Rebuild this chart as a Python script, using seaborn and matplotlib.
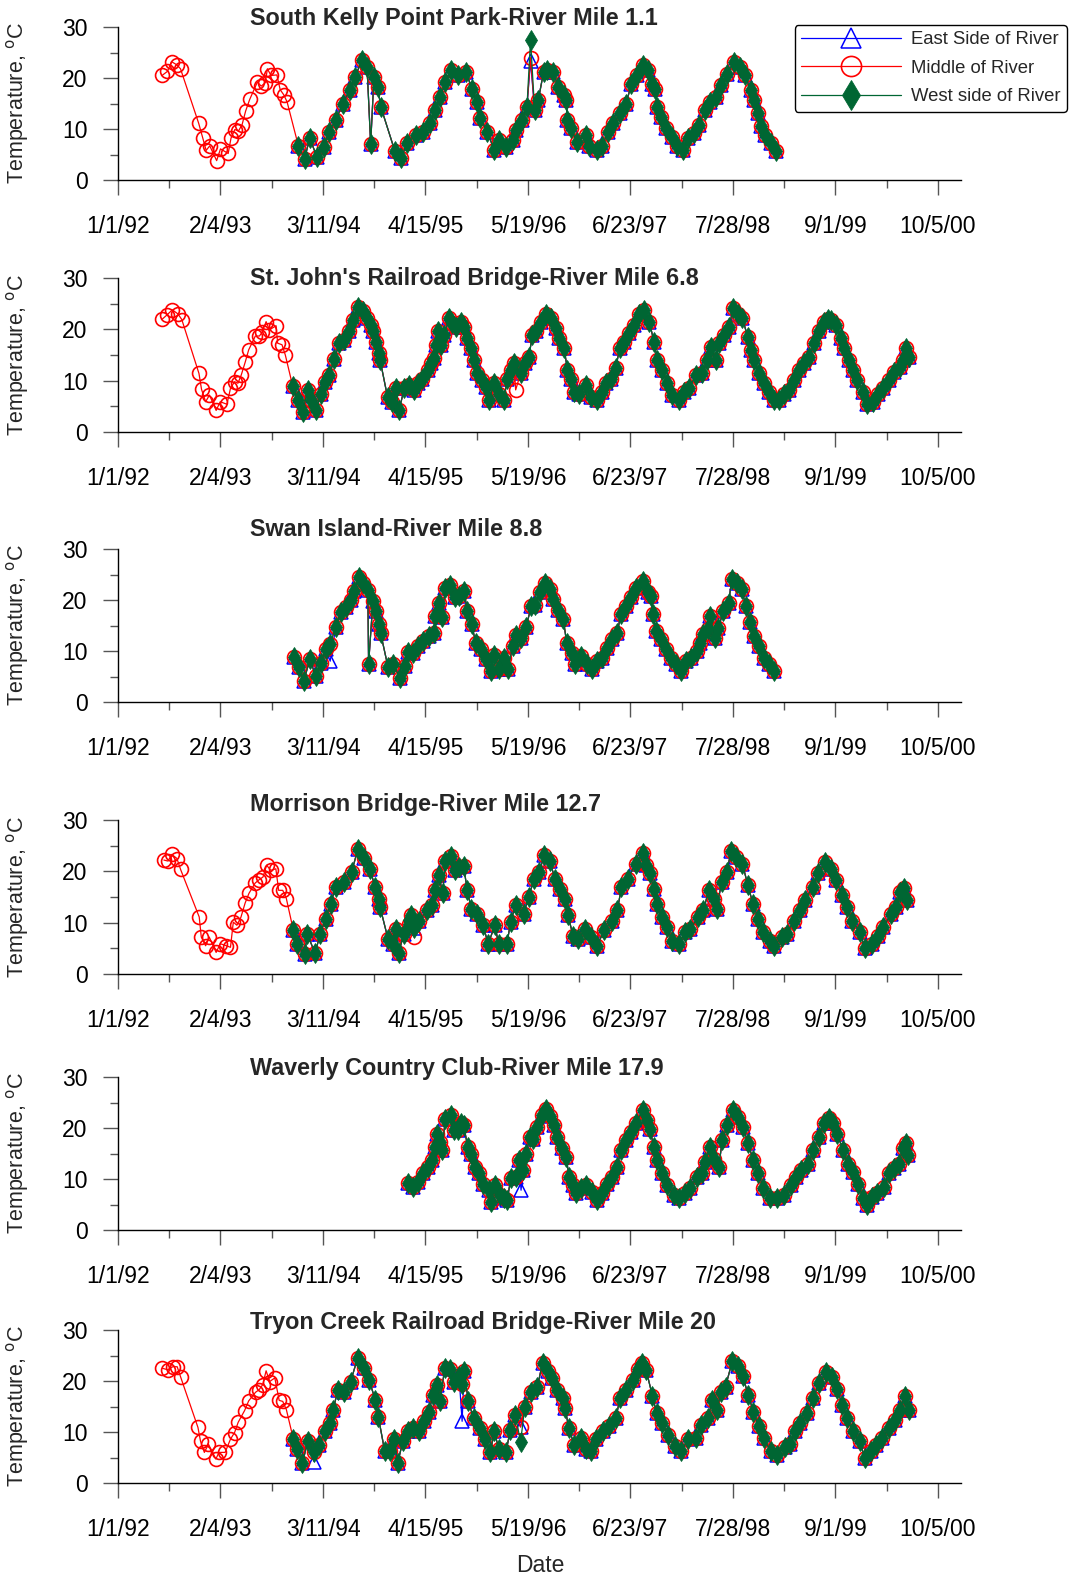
import matplotlib
matplotlib.use("Agg")
import matplotlib.pyplot as plt
import seaborn as sns

# x values are days after 1/1/92; tick labels every 400 days
TICK_DAYS = [0, 400, 800, 1200, 1600, 2000, 2400, 2800, 3200]
TICK_LABELS = ["1/1/92", "2/4/93", "3/11/94", "4/15/95", "5/19/96",
               "6/23/97", "7/28/98", "9/1/99", "10/5/00"]
MINOR_DAYS = [200, 600, 1000, 1400, 1800, 2200, 2600, 3000]

TITLES = [
    "South Kelly Point Park-River Mile 1.1",
    "St. John's Railroad Bridge-River Mile 6.8",
    "Swan Island-River Mile 8.8",
    "Morrison Bridge-River Mile 12.7",
    "Waverly Country Club-River Mile 17.9",
    "Tryon Creek Railroad Bridge-River Mile 20",
]
SERIES = ["East Side of River", "Middle of River", "West side of River"]

# ---- South Kelly Point Park ----
P1_EARLY_DAY = [172, 193, 209, 229, 244, 315, 331, 344, 358, 385, 400, 430, 441, 456,
                470, 484, 498, 514, 544, 559, 575, 583, 597, 620, 633, 647, 660]
P1_EARLY_TEMP = [20.5, 21.3, 23.2, 22.6, 21.8, 11.1, 8.2, 5.8, 6.7, 3.8, 6.1, 5.2, 8.2, 9.9,
                 9.6, 10.8, 13.5, 15.8, 19.2, 18.4, 19.1, 21.8, 20.5, 20.6, 17.7, 16.7, 15.3]
P1_DAY = [704, 728, 748, 776, 803, 823, 850, 877, 904, 925, 952, 972, 986, 999, 1013, 1026,
          1081, 1105, 1128, 1162, 1190, 1216, 1237, 1257, 1278, 1298, 1325, 1360, 1380, 1400,
          1414, 1441, 1468, 1488, 1515, 1542, 1555, 1575, 1596, 1610, 1626, 1640, 1661, 1676,
          1697, 1719, 1740, 1750, 1754, 1769, 1790, 1826, 1840, 1869, 1890, 1911, 1933, 1961,
          1983, 2004, 2026, 2047, 2069, 2083, 2097, 2104, 2119, 2140, 2161, 2183, 2204, 2226,
          2247, 2269, 2290, 2311, 2333, 2354, 2376, 2404, 2426, 2447, 2469, 2483, 2497, 2511,
          2526, 2547, 2569]
P1_TEMP = [6.7, 4.1, 8.2, 4.6, 6.5, 9.5, 11.7, 15.0, 17.6, 20.2, 23.5, 22.1, 7.1, 20.2, 18.2, 14.3,
           5.6, 4.3, 7.2, 8.8, 9.5, 11.1, 13.7, 16.3, 19.2, 21.5, 20.5, 21.1, 17.9, 15.3,
           12.1, 9.5, 5.9, 7.8, 6.5, 7.8, 9.8, 11.7, 14.3, 24.0, 13.7, 15.6, 21.2, 21.5,
           21.2, 18.2, 16.6, 15.6, 11.8, 10.1, 7.5, 8.8, 6.6, 5.9, 6.6, 9.5, 11.1, 13.1,
           15.0, 18.9, 20.5, 22.5, 21.5, 18.9, 17.9, 14.4, 12.4, 10.1, 8.5, 6.6, 5.9, 8.2,
           9.2, 10.8, 13.7, 15.3, 16.3, 18.6, 20.8, 23.2, 22.1, 20.5, 17.6, 15.6, 13.1, 10.5,
           8.8, 7.2, 5.6]
P1_EAST_EDIT = {1610: 23.3}
P1_MID_EDIT = {}
P1_WEST_EDIT = {1610: 27.5}

# ---- St. John's Railroad Bridge ----
P2_EARLY_DAY = [173, 191, 212, 234, 249, 316, 326, 342, 357, 383, 399, 425, 439, 455,
                468, 481, 497, 510, 536, 552, 562, 578, 591, 617, 623, 640, 653]
P2_EARLY_TEMP = [22.0, 22.8, 23.8, 23.0, 21.9, 11.4, 8.3, 5.9, 7.2, 4.2, 5.9, 5.4, 8.5, 9.8,
                 9.5, 11.1, 13.7, 16.0, 18.7, 18.7, 19.4, 21.5, 19.9, 20.7, 17.3, 17.0, 15.0]
P2_DAY = [682, 701, 721, 740, 753, 773, 792, 809, 825, 844, 864, 883, 903, 918, 935, 955,
          970, 987, 996, 1006, 1017, 1023, 1052, 1071, 1084, 1097, 1117, 1136, 1156, 1169,
          1188, 1208, 1221, 1234, 1240, 1247, 1260, 1273, 1292, 1305, 1318, 1338, 1351, 1364,
          1377, 1390, 1403, 1422, 1435, 1448, 1468, 1487, 1506, 1519, 1532, 1545, 1571, 1590,
          1604, 1617, 1630, 1649, 1669, 1689, 1708, 1721, 1741, 1754, 1767, 1780, 1799, 1825,
          1845, 1868, 1888, 1903, 1923, 1942, 1958, 1975, 1995, 2014, 2034, 2053, 2073, 2092,
          2105, 2125, 2144, 2164, 2190, 2210, 2229, 2255, 2281, 2300, 2313, 2333, 2346, 2366,
          2385, 2401, 2418, 2437, 2457, 2470, 2483, 2502, 2522, 2541, 2560, 2580, 2600, 2620,
          2639, 2659, 2678, 2698, 2717, 2737, 2756, 2769, 2782, 2802, 2821, 2834, 2854, 2867,
          2886, 2906, 2925, 2945, 2965, 2984, 3010, 3030, 3050, 3062, 3075, 3088]
P2_TEMP = [8.9, 6.2, 3.9, 8.2, 6.2, 4.2, 7.5, 9.8, 11.1, 14.2, 17.3, 17.9, 19.6, 21.9, 24.3, 23.5,
           22.2, 20.9, 19.6, 17.6, 15.3, 14.0, 6.8, 5.9, 8.5, 4.2, 8.5, 9.1, 8.2, 9.5,
           10.4, 12.1, 13.4, 14.4, 17.0, 19.6, 17.0, 18.9, 22.2, 21.2, 20.5, 21.5, 20.5, 18.3,
           16.3, 14.0, 11.4, 10.1, 8.8, 6.2, 9.5, 7.5, 6.2, 10.4, 12.1, 13.4, 11.4, 13.4,
           14.7, 18.9, 19.6, 21.5, 23.0, 22.2, 20.2, 18.3, 16.3, 12.1, 10.4, 7.8, 7.5, 9.1,
           6.8, 6.2, 7.8, 9.5, 10.4, 12.4, 16.3, 17.6, 19.2, 20.9, 23.0, 23.8, 21.5, 17.6,
           14.0, 12.1, 9.5, 7.2, 6.2, 7.8, 8.5, 11.1, 11.4, 14.0, 16.6, 14.0, 17.3, 18.9,
           20.5, 24.2, 23.0, 22.2, 18.6, 16.0, 14.0, 11.4, 9.5, 7.8, 6.2, 6.2, 7.5, 8.2,
           10.1, 12.1, 13.4, 14.7, 17.3, 19.6, 21.5, 22.0, 21.8, 20.9, 18.3, 16.3, 14.0, 12.1,
           10.1, 7.8, 5.5, 5.9, 7.5, 8.5, 10.1, 11.7, 12.7, 14.0, 16.3, 14.7]
P2_EAST_EDIT = {}
P2_MID_EDIT = {1552: 8.2}
P2_WEST_EDIT = {}

# ---- Swan Island (no early record) ----
P3_EARLY_DAY = []
P3_EARLY_TEMP = []
P3_DAY = [686, 705, 725, 749, 771, 791, 811, 828, 850, 870, 889, 909, 922, 939, 955, 975,
          978, 995, 1008, 1017, 1025, 1054, 1074, 1100, 1120, 1133, 1153, 1172, 1192, 1212,
          1232, 1238, 1251, 1264, 1278, 1297, 1317, 1330, 1350, 1363, 1380, 1396, 1416, 1436,
          1455, 1468, 1488, 1508, 1521, 1541, 1554, 1574, 1593, 1613, 1626, 1646, 1666, 1686,
          1699, 1718, 1738, 1751, 1771, 1784, 1808, 1830, 1850, 1870, 1889, 1909, 1929, 1949,
          1962, 1982, 2001, 2021, 2047, 2067, 2080, 2087, 2100, 2120, 2139, 2159, 2179, 2199,
          2218, 2238, 2258, 2271, 2284, 2304, 2311, 2330, 2343, 2363, 2383, 2396, 2416, 2436,
          2449, 2468, 2482, 2501, 2521, 2541, 2561]
P3_TEMP = [8.9, 6.8, 4.1, 8.4, 5.1, 7.7, 10.4, 11.4, 14.7, 17.7, 18.7, 20.0, 21.7, 24.5, 23.3, 22.0,
           7.5, 19.8, 17.8, 15.2, 13.5, 6.8, 7.4, 4.8, 7.1, 9.9, 9.7, 11.0, 12.0, 12.9,
           13.6, 16.8, 19.5, 16.6, 22.3, 23.0, 20.5, 20.8, 21.8, 17.9, 15.3, 11.6, 10.3, 8.4,
           6.1, 9.3, 6.4, 8.6, 6.4, 11.0, 13.2, 12.6, 14.8, 18.8, 19.1, 21.5, 23.3, 22.1,
           20.1, 18.1, 16.2, 11.6, 9.6, 7.4, 9.0, 7.4, 6.4, 8.0, 8.6, 10.6, 12.3, 13.6,
           17.2, 18.8, 20.5, 22.3, 23.8, 21.5, 20.8, 17.2, 13.9, 12.3, 10.3, 8.6, 7.4, 6.1,
           8.0, 8.6, 10.0, 11.6, 13.3, 14.3, 16.8, 12.6, 14.6, 17.8, 19.5, 24.2, 23.3, 22.1,
           18.8, 15.6, 12.9, 11.0, 8.6, 7.4, 6.1]
P3_EAST_EDIT = {828: 8.0}
P3_MID_EDIT = {}
P3_WEST_EDIT = {}

# ---- Morrison Bridge ----
P4_EARLY_DAY = [179, 195, 210, 230, 244, 317, 325, 342, 356, 383, 399, 423, 439, 450,
                464, 480, 496, 511, 535, 549, 566, 580, 596, 616, 627, 643, 657]
P4_EARLY_TEMP = [22.2, 22.0, 23.3, 22.5, 20.4, 11.1, 7.2, 5.5, 7.2, 4.2, 5.9, 5.5, 5.2, 10.1,
                 9.5, 11.1, 13.8, 15.7, 17.7, 18.3, 18.9, 21.2, 20.2, 20.5, 16.3, 16.3, 14.7]
P4_DAY = [684, 698, 728, 739, 769, 789, 810, 830, 850, 881, 912, 936, 962, 983, 1003, 1017,
          1023, 1054, 1074, 1084, 1095, 1115, 1135, 1145, 1156, 1176, 1206, 1227, 1237, 1253,
          1267, 1278, 1298, 1314, 1329, 1349, 1363, 1379, 1400, 1424, 1445, 1471, 1485, 1518,
          1532, 1552, 1583, 1603, 1624, 1644, 1664, 1685, 1705, 1725, 1746, 1756, 1776, 1796,
          1823, 1847, 1868, 1898, 1929, 1949, 1965, 1990, 2020, 2047, 2061, 2075, 2092, 2102,
          2122, 2142, 2163, 2189, 2214, 2234, 2264, 2285, 2305, 2326, 2336, 2356, 2376, 2393,
          2413, 2437, 2458, 2478, 2498, 2519, 2543, 2560, 2590, 2610, 2637, 2661, 2681, 2712,
          2732, 2759, 2783, 2804, 2824, 2844, 2866, 2895, 2915, 2942, 2966, 2986, 3017, 3038,
          3052, 3068, 3078]
P4_TEMP = [8.6, 5.9, 3.8, 7.8, 4.0, 7.8, 10.8, 13.7, 17.0, 17.9, 19.9, 24.3, 22.6, 20.5, 17.0, 14.7,
           13.0, 6.8, 5.9, 8.8, 4.0, 7.8, 9.8, 11.4, 9.0, 10.4, 12.4, 13.4, 16.3, 19.2,
           15.7, 22.0, 23.0, 20.2, 20.9, 21.0, 16.3, 12.7, 11.7, 9.5, 5.9, 9.5, 5.9, 5.9,
           10.1, 13.4, 11.7, 15.0, 18.6, 19.9, 23.2, 22.0, 18.6, 16.6, 14.7, 11.4, 7.5, 6.8,
           8.8, 7.2, 5.4, 8.5, 10.4, 12.4, 17.0, 18.6, 21.5, 23.5, 21.2, 19.6, 16.6, 13.7,
           11.1, 9.1, 6.5, 5.9, 8.2, 8.8, 11.1, 12.4, 16.3, 14.7, 12.7, 17.9, 19.9, 24.0,
           22.8, 21.5, 17.3, 13.7, 10.8, 8.2, 6.5, 5.4, 7.2, 7.8, 10.4, 12.4, 14.4, 17.0,
           19.6, 21.8, 20.5, 18.3, 15.3, 13.0, 10.4, 8.2, 5.0, 5.9, 7.5, 9.1, 11.7, 13.0,
           16.0, 16.8, 14.4]
P4_EAST_EDIT = {}
P4_MID_EDIT = {1156: 7.2}
P4_WEST_EDIT = {1134: 10.5}

# ---- Waverly Country Club (starts 1995) ----
P5_EARLY_DAY = []
P5_EARLY_TEMP = []
P5_DAY = [1130, 1150, 1170, 1191, 1211, 1224, 1238, 1244, 1258, 1264, 1278, 1298, 1311, 1325,
          1338, 1349, 1365, 1379, 1392, 1408, 1425, 1446, 1456, 1472, 1492, 1506, 1519, 1533,
          1553, 1564, 1580, 1593, 1607, 1620, 1634, 1654, 1671, 1687, 1701, 1714, 1734, 1748,
          1761, 1774, 1788, 1808, 1828, 1848, 1868, 1889, 1909, 1929, 1949, 1962, 1983, 2003,
          2023, 2047, 2063, 2077, 2090, 2104, 2123, 2144, 2171, 2191, 2211, 2231, 2258, 2278,
          2291, 2311, 2325, 2345, 2358, 2378, 2399, 2419, 2439, 2459, 2479, 2499, 2519, 2546,
          2573, 2600, 2627, 2647, 2667, 2694, 2714, 2734, 2754, 2774, 2790, 2808, 2828, 2848,
          2868, 2888, 2908, 2922, 2942, 2962, 2989, 3009, 3028, 3048, 3062, 3075, 3084]
P5_TEMP = [9.3, 8.4, 9.5, 11.1, 12.4, 13.7, 16.3, 18.9, 17.3, 15.7, 21.8, 22.5, 19.6, 19.6,
           20.9, 20.5, 16.3, 15.0, 12.4, 11.1, 9.1, 7.8, 5.5, 8.8, 6.8, 6.2, 5.9, 10.1,
           10.4, 13.7, 11.7, 15.0, 18.3, 17.9, 20.2, 22.5, 23.8, 22.3, 20.5, 18.3, 16.0, 14.4,
           10.4, 8.8, 7.2, 8.2, 8.8, 7.5, 5.9, 7.2, 9.1, 10.4, 12.4, 15.7, 17.6, 19.2,
           20.9, 23.6, 21.5, 19.9, 16.3, 13.7, 11.1, 8.8, 6.8, 6.2, 7.2, 8.2, 10.4, 11.1,
           13.4, 16.3, 14.0, 12.4, 17.6, 20.5, 23.5, 22.2, 20.2, 17.0, 13.7, 11.1, 8.2, 6.2,
           6.2, 6.8, 8.8, 10.4, 11.7, 13.0, 15.7, 18.3, 21.0, 22.0, 20.9, 18.9, 15.7, 13.0,
           11.4, 9.1, 6.2, 4.9, 6.5, 7.2, 8.5, 11.1, 12.1, 13.0, 16.0, 17.0, 14.7]
P5_EAST_EDIT = {1573: 7.8}
P5_MID_EDIT = {}
P5_WEST_EDIT = {}

# ---- Tryon Creek Railroad Bridge ----
P6_EARLY_DAY = [173, 194, 214, 231, 245, 312, 322, 337, 353, 382, 394, 418, 439, 455,
                469, 494, 510, 537, 551, 565, 578, 592, 612, 629, 643, 657]
P6_EARLY_TEMP = [22.5, 22.2, 22.8, 22.8, 20.7, 10.9, 8.2, 6.0, 7.6, 4.7, 6.0, 6.0, 8.6, 9.9,
                 11.9, 14.2, 16.1, 17.8, 18.3, 19.3, 22.0, 19.9, 20.6, 16.2, 16.0, 14.4]
P6_DAY = [684, 698, 720, 741, 765, 786, 806, 827, 841, 857, 882, 908, 935, 959, 980, 1004,
          1016, 1041, 1061, 1078, 1092, 1112, 1133, 1153, 1173, 1194, 1214, 1229, 1245, 1255,
          1276, 1296, 1310, 1331, 1343, 1351, 1367, 1388, 1412, 1433, 1453, 1469, 1486, 1514,
          1531, 1551, 1571, 1588, 1612, 1637, 1657, 1678, 1694, 1714, 1735, 1745, 1759, 1780,
          1806, 1827, 1847, 1867, 1894, 1918, 1943, 1959, 1984, 2010, 2031, 2045, 2061, 2086,
          2102, 2122, 2147, 2173, 2198, 2224, 2255, 2276, 2302, 2320, 2337, 2355, 2371, 2398,
          2418, 2439, 2459, 2480, 2500, 2520, 2547, 2571, 2602, 2622, 2643, 2663, 2690, 2714,
          2735, 2765, 2786, 2806, 2827, 2847, 2867, 2894, 2914, 2939, 2959, 2982, 3010, 3031,
          3051, 3071, 3086]
P6_TEMP = [8.7, 6.6, 4.0, 8.2, 6.0, 7.5, 10.1, 11.7, 14.4, 18.3, 17.9, 19.9, 24.5, 22.6, 20.2, 16.3,
           13.0, 6.2, 6.2, 8.6, 4.0, 8.3, 10.1, 10.8, 10.1, 12.1, 14.0, 17.3, 19.3, 16.0,
           22.5, 22.3, 19.9, 20.9, 19.5, 22.0, 16.0, 12.7, 10.8, 8.6, 6.0, 10.1, 6.6, 6.0,
           10.4, 13.4, 11.0, 15.0, 17.9, 18.9, 23.6, 22.0, 20.5, 18.3, 16.6, 14.7, 10.8, 7.5,
           8.9, 6.6, 6.2, 8.6, 10.2, 11.1, 12.7, 16.6, 18.3, 20.2, 22.4, 23.5, 22.2, 17.0,
           13.7, 11.7, 9.5, 7.2, 6.2, 8.6, 8.9, 11.4, 12.7, 16.3, 14.4, 17.9, 18.9, 24.0,
           23.0, 20.9, 17.3, 14.0, 11.1, 8.8, 6.2, 5.5, 7.0, 7.6, 10.2, 11.7, 13.7, 16.6,
           19.6, 21.8, 20.8, 18.4, 15.3, 12.7, 10.1, 8.2, 5.0, 6.2, 7.5, 8.9, 10.8, 12.4,
           14.4, 17.0, 14.4]
P6_EAST_EDIT = {765: 4.2, 1343: 12.1}
P6_MID_EDIT = {}
P6_WEST_EDIT = {1571: 8.0}

PANELS = [
    (P1_EARLY_DAY, P1_EARLY_TEMP, P1_DAY, P1_TEMP, P1_EAST_EDIT, P1_MID_EDIT, P1_WEST_EDIT),
    (P2_EARLY_DAY, P2_EARLY_TEMP, P2_DAY, P2_TEMP, P2_EAST_EDIT, P2_MID_EDIT, P2_WEST_EDIT),
    (P3_EARLY_DAY, P3_EARLY_TEMP, P3_DAY, P3_TEMP, P3_EAST_EDIT, P3_MID_EDIT, P3_WEST_EDIT),
    (P4_EARLY_DAY, P4_EARLY_TEMP, P4_DAY, P4_TEMP, P4_EAST_EDIT, P4_MID_EDIT, P4_WEST_EDIT),
    (P5_EARLY_DAY, P5_EARLY_TEMP, P5_DAY, P5_TEMP, P5_EAST_EDIT, P5_MID_EDIT, P5_WEST_EDIT),
    (P6_EARLY_DAY, P6_EARLY_TEMP, P6_DAY, P6_TEMP, P6_EAST_EDIT, P6_MID_EDIT, P6_WEST_EDIT),
]

# layout, in pixels of the 1073x1581 canvas: (axes top, axes bottom, title y)
W, H = 1073, 1581
AX_LEFT, AX_RIGHT = 118, 961
PANEL_PX = [(27, 180, 19), (278, 432, 278), (549, 702, 529), (820, 974, 805),
            (1077, 1230, 1069), (1330, 1483, 1322)]
TITLE_X = 250

BLUE, RED, GREEN = "#0000ff", "#ff0000", "#006633"


def merge(days, temps, edits):
    pts = dict(zip(days, temps))
    pts.update(edits)
    keys = sorted(pts)
    return keys, [pts[k] for k in keys]


sns.set_theme(style="ticks")
plt.rcParams["font.family"] = ["Liberation Sans", "DejaVu Sans"]

fig = plt.figure(figsize=(W / 100, H / 100), dpi=100)

axes = []
for i, (early_d, early_t, dense_d, dense_t, e_edit, m_edit, w_edit) in enumerate(PANELS):
    top, bottom, title_y = PANEL_PX[i]
    ax = fig.add_axes([AX_LEFT / W, 1 - bottom / H, (AX_RIGHT - AX_LEFT) / W, (bottom - top) / H])
    axes.append(ax)

    east_d, east_t = merge(dense_d, dense_t, e_edit)
    mid_d, mid_t = merge(list(early_d) + list(dense_d), list(early_t) + list(dense_t), m_edit)
    west_d, west_t = merge(dense_d, dense_t, w_edit)

    common = dict(ax=ax, estimator=None, legend=False, lw=0.9, clip_on=False)
    sns.lineplot(x=east_d, y=east_t, color=BLUE, marker="^", ms=9.5, mfc="none",
                 mec=BLUE, mew=1.1, label=SERIES[0], **common)
    sns.lineplot(x=mid_d, y=mid_t, color=RED, marker="o", ms=10, mfc="none",
                 mec=RED, mew=1.2, label=SERIES[1], **common)
    sns.lineplot(x=west_d, y=west_t, color=GREEN, marker="d", ms=10.5, mfc=GREEN,
                 mec=GREEN, mew=0.6, label=SERIES[2], **common)

    ax.set_xlim(0, 3290)
    ax.set_ylim(0, 30)
    sns.despine(ax=ax)
    ax.set_xticks(TICK_DAYS)
    ax.set_xticklabels(TICK_LABELS)
    ax.set_xticks(MINOR_DAYS, minor=True)
    ax.set_yticks([0, 10, 20, 30])
    ax.set_yticks([5, 15, 25], minor=True)
    ax.tick_params(which="major", direction="out", length=11, width=1.0,
                   color="#555555", labelsize=16.5, labelcolor="black")
    ax.tick_params(axis="x", which="major", pad=14)
    ax.tick_params(axis="y", which="major", pad=11)
    ax.tick_params(which="minor", direction="out", length=5.5, width=1.0, color="#555555")
    for side in ("left", "bottom"):
        ax.spines[side].set_color("black")
        ax.spines[side].set_linewidth(1.0)
    ax.set_xlabel("")
    ax.set_ylabel("")

    fig.text(TITLE_X / W, 1 - title_y / H, TITLES[i], ha="left", va="center",
             fontsize=16.8, fontweight="bold")
    fig.text(18 / W, 1 - (top + bottom) / 2 / H, r"Temperature, $^{\mathrm{o}}$C",
             rotation=90, ha="center", va="center", fontsize=15.5)

fig.text(540 / W, 1 - 1565 / H, "Date", ha="center", va="center", fontsize=16.5)

handles, labels = axes[0].get_legend_handles_labels()
fig.legend(handles, labels, loc="upper right",
           bbox_to_anchor=(1067 / W, 1 - 25 / H), borderaxespad=0,
           fancybox=True, framealpha=1, edgecolor="black", markerscale=1.45,
           handlelength=5.4, handletextpad=0.55, labelspacing=0.62, borderpad=0.35,
           prop={"family": ["Liberation Sans Narrow", "Liberation Sans"], "size": 13.3})

fig.savefig("out.png", dpi=100)
